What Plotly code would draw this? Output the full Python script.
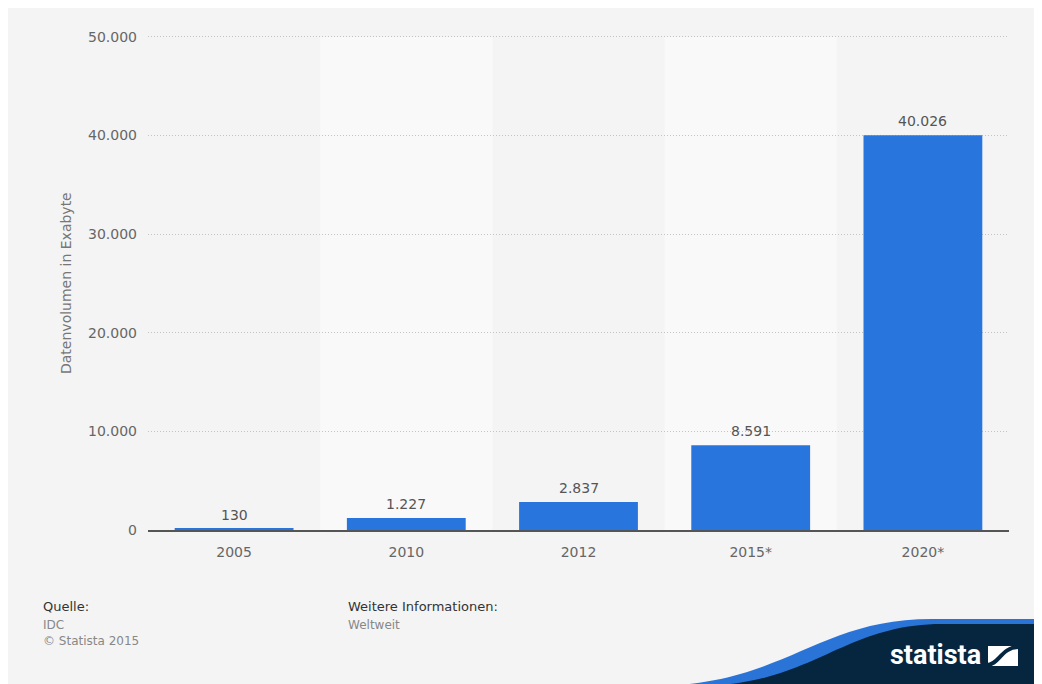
import plotly.graph_objects as go

# ---- data ----
categories = ["2005", "2010", "2012", "2015*", "2020*"]
values = [130, 1227, 2837, 8591, 40026]
y_ticks = [0, 10000, 20000, 30000, 40000, 50000]
y_title = "Datenvolumen in Exabyte"

W, H = 1042, 684
OFF = 8  # page body margin: screen coords = figure coords + 8
YMAX = 50200
PPU = (530 - 37) / 50000  # pixels per unit
X0S, X1S, Y1S = 148, 1009, 530
Y0S = Y1S - YMAX * PPU  # plot area top in screen pixels
L, R = X0S - OFF, W - (X1S - OFF)
T, B = Y0S - OFF, H - (Y1S - OFF)
PW, PH = X1S - X0S, Y1S - Y0S


def px(x):
    return (x - X0S) / PW


def py(y):
    return (Y1S - y) / PH


def de(v):
    return f"{v:,}".replace(",", ".")


FONT = "DejaVu Sans"
BAR = "#2876dd"

fig = go.Figure()
fig.add_trace(go.Bar(
    x=categories, y=values, width=0.69,
    marker=dict(color=BAR, line=dict(width=0)),
    hoverinfo="skip",
))

shapes = []
# alternating bands
for i in range(len(categories)):
    if i % 2 == 1:
        shapes.append(dict(type="rect", xref="x", yref="paper", layer="below",
                           x0=i - 0.5, x1=i + 0.5, y0=0, y1=py(37),
                           fillcolor="#f9f9f9", line=dict(width=0)))


def path(cmds):
    out = []
    for c in cmds:
        if isinstance(c, str):
            out.append(c)
        else:
            out.append(f"{px(c[0]):.5f},{py(c[1]):.5f}")
    return " ".join(out)


BIG = 1100
blue_path = path(["M", (650, BIG), "L", (650, H + 2), "C", (785, H + 2), (815, 619), (932, 619),
                  "L", (BIG, 619), "L", (BIG, BIG), "Z"])
navy_path = path(["M", (697, BIG), "L", (697, H + 2), "C", (812, H + 2), (842, 624), (942, 624),
                  "L", (BIG, 624), "L", (BIG, BIG), "Z"])
shapes.append(dict(type="path", xref="paper", yref="paper", path=blue_path,
                   fillcolor="#2a74d8", line=dict(width=0), layer="above"))
shapes.append(dict(type="path", xref="paper", yref="paper", path=navy_path,
                   fillcolor="#06263f", line=dict(width=0), layer="above"))
# logo icon
shapes.append(dict(type="rect", xref="paper", yref="paper",
                   x0=px(988), x1=px(1018), y0=py(666), y1=py(646),
                   fillcolor="white", line=dict(width=0), layer="above"))
icon_path = path(["M", (987, 665), "C", (999, 665), (1001, 647), (1019, 647)])
shapes.append(dict(type="path", xref="paper", yref="paper", path=icon_path,
                   line=dict(color="#06263f", width=4), layer="above"))

annotations = []
for i, v in enumerate(values):
    annotations.append(dict(x=i, y=v, xref="x", yref="y", text=de(v),
                            showarrow=False, yanchor="bottom", yshift=4,
                            font=dict(family=FONT, size=14, color="#555555")))
annotations.append(dict(x=px(66), y=py(283), xref="paper", yref="paper",
                        text=y_title, textangle=-90, showarrow=False,
                        xanchor="center", yanchor="middle",
                        font=dict(family=FONT, size=14, color="#777777")))


def foot(x, y, text, color, size):
    annotations.append(dict(x=px(x), y=py(y), xref="paper", yref="paper",
                            text=text, showarrow=False, xanchor="left",
                            yanchor="middle",
                            font=dict(family=FONT, size=size, color=color)))


foot(41, 606, "Quelle:", "#333333", 13)
foot(41, 625, "IDC", "#888888", 12)
foot(41, 641, "© Statista 2015", "#888888", 12)
foot(346, 606, "Weitere Informationen:", "#333333", 13)
foot(346, 625, "Weltweit", "#888888", 12)
annotations.append(dict(x=px(935), y=py(655), xref="paper", yref="paper",
                        text="<b>statista</b>", showarrow=False,
                        xanchor="center", yanchor="middle",
                        font=dict(family="Roboto", size=27, color="white")))

fig.update_layout(
    width=W, height=H,
    margin=dict(l=L, r=R, t=T, b=B, autoexpand=False),
    paper_bgcolor="#f4f4f4", plot_bgcolor="#f4f4f4",
    showlegend=False,
    separators=",.",
    font=dict(family=FONT, size=14, color="#666666"),
    shapes=shapes, annotations=annotations,
    xaxis=dict(type="category", categoryorder="array", categoryarray=categories,
               range=[-0.5, len(categories) - 0.5], autorange=False,
               showline=True, linecolor="#555555", linewidth=2,
               layer="above traces",
               showgrid=False, ticks="", ticklabelstandoff=8,
               tickfont=dict(family=FONT, size=14, color="#666666"),
               fixedrange=True),
    yaxis=dict(range=[0, YMAX], autorange=False, tickvals=y_ticks,
               ticktext=[de(v) for v in y_ticks],
               showgrid=True, gridcolor="#c4c4c4", griddash="1px,2px", gridwidth=1,
               zeroline=False, showline=False, ticks="",
               ticklabelstandoff=10,
               tickfont=dict(family=FONT, size=14, color="#666666"),
               fixedrange=True),
)

fig.write_html("out.html")
